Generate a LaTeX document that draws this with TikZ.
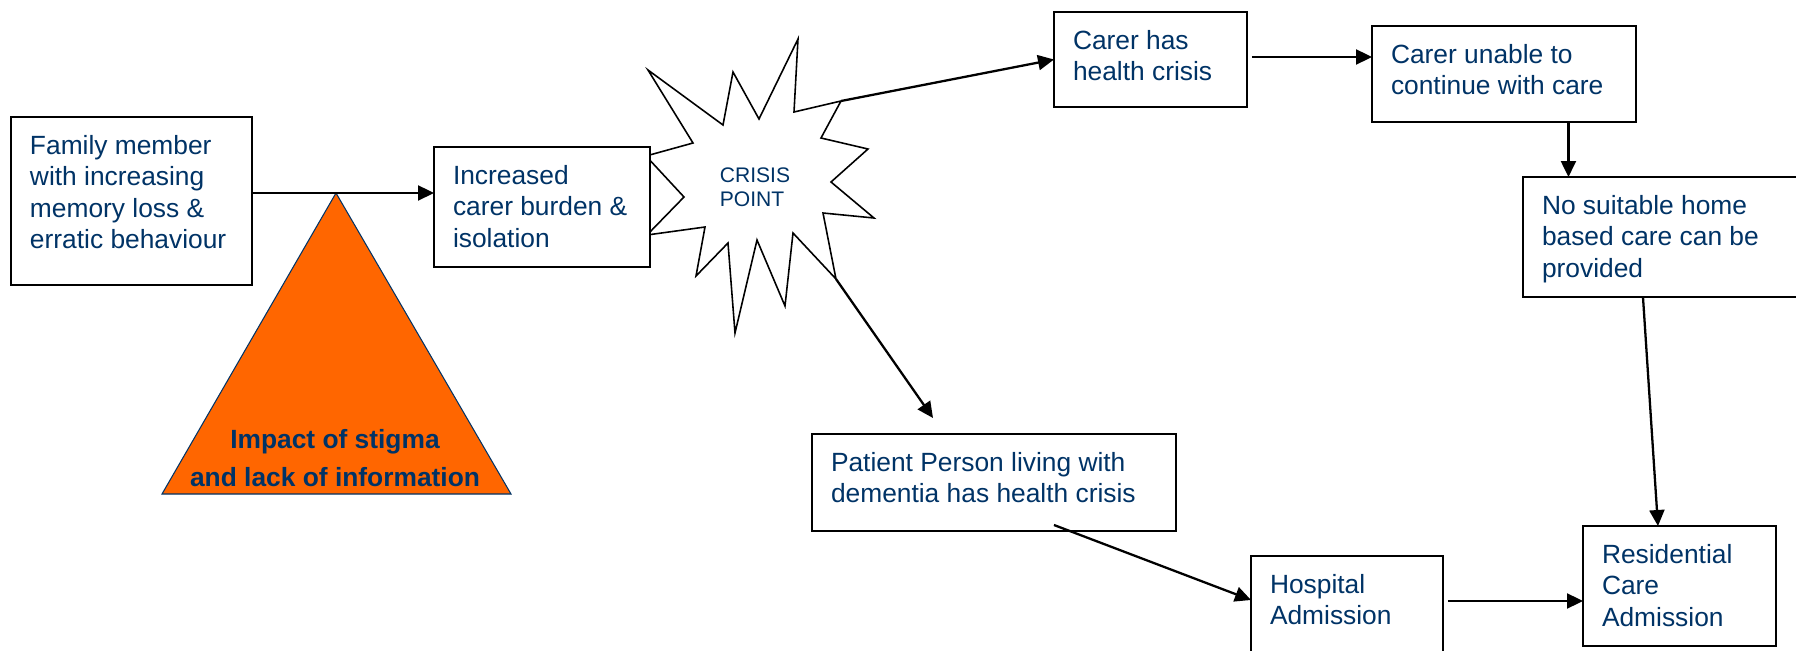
\documentclass[tikz,border=0pt]{standalone}
\usepackage{fontspec}
\setmainfont{Liberation Sans}
\usetikzlibrary{arrows.meta}

\definecolor{ink}{RGB}{0,51,102}
\definecolor{stigmaorange}{RGB}{255,102,0}

\begin{document}
\begin{tikzpicture}[x=0.02cm, y=-0.02cm,
    >={Triangle[length=0.32cm, width=0.30cm]},
    stage/.style={draw=black, line width=1.1pt, fill=white, anchor=north west,
        inner xsep=0.38cm, inner ysep=0.36cm, outer sep=0pt, text=ink,
        font=\fontsize{15}{18}\selectfont},
    flow/.style={->, line width=1.3pt},
    burst/.style={draw=black, line width=0.9pt, fill=white},
    stigmashape/.style={draw=ink, line width=0.6pt, fill=stigmaorange},
]
    \useasboundingbox (0,0) rectangle (1796,650);

    % stigma triangle
    \draw[stigmashape] (336,193) -- (162,494) -- (511,494) -- cycle;
    \node[text=ink, align=center, font=\bfseries\fontsize{15}{21.4}\selectfont] (stigma) at (335,458)
        {Impact of stigma\\and lack of information};

    % crisis point
    \coordinate (tipne) at (841,101);
    \coordinate (tipse) at (836,279);
    \draw[burst] (646,156) -- (693,143) -- (648,70) -- (723,125) -- (733,72) -- (759,119)
        -- (798,39) -- (794,112) -- (tipne) -- (821,138) -- (868,149) -- (831,182)
        -- (874,218) -- (823,213) -- (tipse) -- (793,233) -- (785,306) -- (757,240)
        -- (735,333) -- (728,243) -- (696,276) -- (705,227) -- (647,235) -- (684,197) -- cycle;
    \node[text=ink, align=left, font=\fontsize{12}{13.7}\selectfont] (crisis) at (755,187) {CRISIS\\POINT};

    % boxes
    \node[stage] (family) at (11,117)
        {\parbox[t][2.64cm][t]{4.06cm}{Family member\\with increasing\\memory loss \&\\erratic behaviour}};
    \node[stage] (burden) at (434,147)
        {\parbox[t][1.68cm][t]{3.56cm}{Increased\\carer burden \&\\isolation}};
    \node[stage] (carerhealth) at (1054,12)
        {\parbox[t][1.18cm][t]{3.10cm}{Carer has\\health crisis}};
    \node[stage] (carerunable) at (1372,26)
        {\parbox[t][1.20cm][t]{4.52cm}{Carer unable to\\continue with care}};
    \node[stage] (nohome) at (1523,177)
        {\parbox[t][1.68cm][t]{5.04cm}{No suitable home\\based care can be\\provided}};
    \node[stage] (patient) at (812,434)
        {\parbox[t][1.22cm][t]{6.52cm}{Patient Person living with\\dementia has health crisis}};
    \node[stage] (hospital) at (1251,556)
        {\parbox[t][1.68cm][t]{3.08cm}{Hospital\\Admission}};
    \node[stage] (residential) at (1583,526)
        {\parbox[t][1.68cm][t]{3.10cm}{Residential\\Care\\Admission}};
    \coordinate (patientin) at (933,418);

    % arrows
    \draw[flow] ([yshift=0.16cm]family.east) coordinate (famout) -- (famout -| burden.west);
    \draw[flow] (tipne) -- (carerhealth.west);
    \draw[flow] ([shift={(0.1cm,0.05cm)}]carerhealth.east) coordinate (chout) -- (chout -| carerunable.west);
    \draw[flow] ([xshift=-1.35cm]carerunable.south east) coordinate (cuout) -- (cuout |- nohome.north);
    \draw[flow] ([xshift=2.4cm]nohome.south west) -- ([xshift=1.5cm]residential.north west);
    \draw[flow] (tipse) -- (patientin);
    \draw[flow] ([shift={(1.2cm,0.12cm)}]patient.south) -- ([yshift=0.32cm]hospital.west);
    \draw[flow] ([shift={(0.1cm,0.3cm)}]hospital.east) coordinate (hout) -- (hout -| residential.west);
\end{tikzpicture}
\end{document}
